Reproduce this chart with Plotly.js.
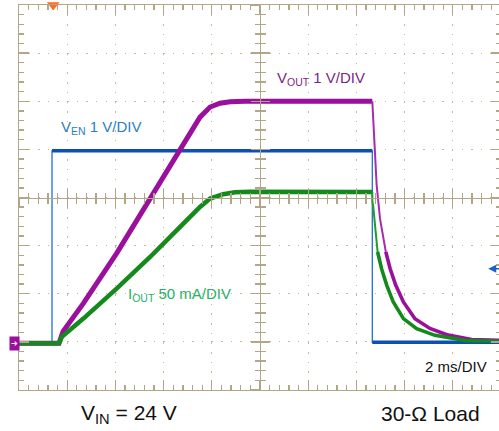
<!DOCTYPE html>
<html>
<head>
<meta charset="utf-8">
<script src="https://cdn.plot.ly/plotly-3.0.1.min.js"></script>
<style>
html,body{margin:0;padding:0;overflow:hidden;background:#fff;width:499px;height:431px;}
#chart{width:502px;height:431px;}
</style>
</head>
<body>
<div id="chart"></div>
<script>
// ---- Data (time in ms from left edge of screen, 2 ms/DIV) ----
// V_EN (V), 1 V/DIV
const ven_t = [0, 1.37, 1.37, 14.66, 14.66, 20];
const ven_v = [0, 0, 4.0, 4.0, 0.02, 0.02];

// V_OUT (V), 1 V/DIV
const vout_rise_t = [0, 1.66, 1.83, 2.67, 4.05, 5.44, 6.68, 7.10, 7.51, 7.93, 8.34, 8.76, 9.38, 14.66];
const vout_rise_v = [0, 0, 0.25, 0.83, 1.87, 3.02, 4.01, 4.37, 4.70, 4.91, 4.99, 5.02, 5.03, 5.03];
const vout_drop_t = [14.66, 14.70, 14.77, 14.84, 14.98, 15.22, 15.40];
const vout_drop_v = [5.03, 4.57, 3.87, 3.29, 2.59, 1.90, 1.55];
const vout_decay_t = [15.22, 15.40, 15.63, 15.95, 16.43, 17.05, 17.81, 18.78, 20];
const vout_decay_v = [1.90, 1.55, 1.21, 0.86, 0.51, 0.31, 0.17, 0.08, 0.06];

// I_OUT (mA), 50 mA/DIV
const iout_rise_t = [0, 1.66, 1.78, 2.67, 4.05, 5.44, 6.82, 7.51, 7.93, 8.47, 8.96, 9.59, 14.66];
const iout_rise_ma = [0, 0, 6.8, 25.7, 56.9, 89.7, 124.4, 141.7, 150.4, 154.9, 157.0, 157.5, 157.3];
const iout_drop_t = [14.66, 14.66, 14.70, 14.74, 14.88, 15.05];
const iout_drop_ma = [157.3, 148, 141.7, 129.6, 94.9, 77.0];
const iout_decay_t = [14.88, 15.05, 15.26, 15.53, 15.95, 16.50, 17.26, 18.51, 20];
const iout_decay_ma = [94.9, 77.0, 60.3, 42.9, 25.7, 15.3, 8.3, 3.1, 2.1];

// Markers / settings
const trigger_t = 1.42;      // trigger position (ms)
const trigger_level = 1.55;  // V_EN trigger level (V)
const ground_v = 0;

// Labels
const lbl_ven = 'V<sub>EN</sub> 1 V/DIV';
const lbl_vout = 'V<sub>OUT</sub> 1 V/DIV';
const lbl_iout = 'I<sub>OUT</sub> 50 mA/DIV';
const lbl_time = '2 ms/DIV';
const lbl_vin = 'V<sub>IN</sub> = 24 V';
const lbl_load = '30-Ω Load';

// ---- helpers ----
function breakAtSteps(t, v) {
  const xo = [], yo = [];
  for (let i = 0; i < t.length; i++) {
    if (i > 0 && t[i] === t[i-1]) { xo.push(null); yo.push(null); }
    xo.push(t[i]); yo.push(v[i]);
  }
  return {x: xo, y: yo};
}

const TAN = '#b2a688';
const DOT = '#c4b99f';
const FONT = 'Liberation Sans, Arial, sans-serif';
const C_BLUE = '#0d50b2', C_BLUE_EDGE = '#1f72d6';
const C_MAG = '#9a0f9c', C_MAG_EDGE = '#a62bb0';
const C_GRN = '#138a1b', C_GRN_EDGE = '#1e9c29';

const venThick = breakAtSteps(ven_t, ven_v);

const traces = [
  // I_OUT
  {x: iout_rise_t, y: iout_rise_ma, yaxis: 'y2', mode: 'lines', line: {color: C_GRN, width: 4.5}, hoverinfo: 'skip'},
  {x: iout_drop_t, y: iout_drop_ma, yaxis: 'y2', mode: 'lines', line: {color: C_GRN_EDGE, width: 2}, hoverinfo: 'skip'},
  {x: iout_decay_t, y: iout_decay_ma, yaxis: 'y2', mode: 'lines', line: {color: C_GRN, width: 3.6}, hoverinfo: 'skip'},
  // V_EN
  {x: ven_t, y: ven_v, mode: 'lines', line: {color: C_BLUE_EDGE, width: 1.3}, hoverinfo: 'skip'},
  {x: venThick.x, y: venThick.y, mode: 'lines', connectgaps: false, line: {color: C_BLUE, width: 3.5}, hoverinfo: 'skip'},
  // V_OUT
  {x: vout_rise_t, y: vout_rise_v, mode: 'lines', line: {color: C_MAG, width: 5}, hoverinfo: 'skip'},
  {x: vout_drop_t, y: vout_drop_v, mode: 'lines', line: {color: C_MAG_EDGE, width: 2}, hoverinfo: 'skip'},
  {x: vout_decay_t, y: vout_decay_v, mode: 'lines', line: {color: C_MAG, width: 3.6}, hoverinfo: 'skip'},
  // trigger position marker
  {x: [trigger_t], y: [7.03], mode: 'markers', cliponaxis: false,
   marker: {symbol: 'triangle-down', size: 11, color: '#ff6a1e'}, hoverinfo: 'skip'},
  // dummy traces for the centre cross axes
  {x: [], y: [], xaxis: 'x2', mode: 'lines', hoverinfo: 'skip'},
  {x: [], y: [], xaxis: 'x3', mode: 'lines', hoverinfo: 'skip'},
  {x: [], y: [], yaxis: 'y3', mode: 'lines', hoverinfo: 'skip'},
  {x: [], y: [], yaxis: 'y4', mode: 'lines', hoverinfo: 'skip'}
];

const xr = [0, 20];
const yr = [-0.97, 7.03];

const borderX = {
  range: xr, tick0: 0, dtick: 2, showticklabels: false, zeroline: false,
  showgrid: true, gridcolor: DOT, gridwidth: 1, griddash: '1.5px,8.14px',
  showline: true, linecolor: TAN, linewidth: 1.3, mirror: 'ticks',
  ticks: 'inside', ticklen: 10, tickcolor: TAN, tickwidth: 1.3,
  minor: {ticks: 'inside', tick0: 0, dtick: 0.4, ticklen: 5, tickcolor: TAN, tickwidth: 1.3, showgrid: false},
  fixedrange: true
};
const borderY = {
  range: yr, tick0: -0.97, dtick: 1, showticklabels: false, zeroline: false,
  showgrid: true, gridcolor: DOT, gridwidth: 1, griddash: '1.5px,8.12px',
  showline: true, linecolor: TAN, linewidth: 1.3, mirror: 'ticks',
  ticks: 'inside', ticklen: 10, tickcolor: TAN, tickwidth: 1.3,
  minor: {ticks: 'inside', tick0: -0.97, dtick: 0.2, ticklen: 5, tickcolor: TAN, tickwidth: 1.3, showgrid: false},
  fixedrange: true
};
function centreX(side) {
  return {overlaying: 'x', anchor: 'free', position: 0.5, range: xr, tick0: 0, dtick: 2,
    showticklabels: false, zeroline: false, showgrid: false,
    showline: true, linecolor: TAN, linewidth: 1.3,
    ticks: side, ticklen: 9, tickcolor: TAN, tickwidth: 1.3,
    minor: {ticks: side, tick0: 0, dtick: 0.4, ticklen: 5, tickcolor: TAN, tickwidth: 1.3, showgrid: false},
    fixedrange: true};
}
function centreY(side) {
  return {overlaying: 'y', anchor: 'free', position: 0.5, range: yr, tick0: -0.97, dtick: 1,
    showticklabels: false, zeroline: false, showgrid: false,
    showline: true, linecolor: TAN, linewidth: 1.3,
    ticks: side, ticklen: 9, tickcolor: TAN, tickwidth: 1.3,
    minor: {ticks: side, tick0: -0.97, dtick: 0.2, ticklen: 5, tickcolor: TAN, tickwidth: 1.3, showgrid: false},
    fixedrange: true};
}

function pa(text, x, y, size, color, extra) {
  return Object.assign({text: text, xref: 'paper', yref: 'paper', x: x, y: y,
    xanchor: 'left', yanchor: 'middle', showarrow: false,
    font: {family: FONT, size: size, color: color}}, extra || {});
}

const layout = {
  width: 502, height: 431,
  margin: {l: 19, r: 1, t: 5, b: 41, pad: 0},
  paper_bgcolor: '#ffffff', plot_bgcolor: '#ffffff',
  showlegend: false,
  xaxis: borderX,
  yaxis: borderY,
  yaxis2: {overlaying: 'y', range: [-48.5, 351.5], visible: false, fixedrange: true},
  xaxis2: centreX('inside'),
  xaxis3: centreX('outside'),
  yaxis3: centreY('inside'),
  yaxis4: centreY('outside'),
  annotations: [
    pa(lbl_ven, 0.082, 0.683, 15, '#2a7fc6'),
    pa(lbl_vout, 0.532, 0.808, 15, '#7c1f86'),
    pa(lbl_iout, 0.223, 0.247, 15, '#25b062'),
    pa(lbl_time, 0.838, 0.060, 15, '#111111'),
    pa(lbl_vin, 0.125, -0.062, 21, '#111111'),
    pa(lbl_load, 0.746, -0.062, 21, '#111111'),
    // ground reference marker (V_OUT channel)
    {text: '➔', xref: 'paper', yref: 'y', x: -0.0093, y: ground_v, xanchor: 'center', yanchor: 'middle',
     showarrow: false, bgcolor: C_MAG, width: 9, height: 13, borderpad: 0,
     font: {family: 'DejaVu Sans', size: 8, color: '#ffffff'}},
    // trigger level arrow (V_EN)
    {text: '', x: 19.47, y: trigger_level, xref: 'x', yref: 'y', showarrow: true,
     arrowhead: 2, arrowsize: 1, arrowwidth: 1.6, arrowcolor: '#1d5fc4', ax: 20, ay: 0}
  ]
};

Plotly.newPlot('chart', traces, layout, {displayModeBar: false, staticPlot: true});
</script>
</body>
</html>
